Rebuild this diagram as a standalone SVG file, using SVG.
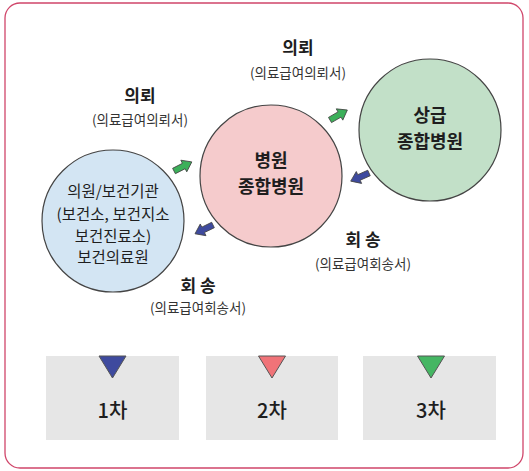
<svg xmlns="http://www.w3.org/2000/svg" width="529" height="471" viewBox="0 0 529 471">
<defs>
<style>
text{font-family:"Noto Sans CJK KR","Noto Sans",sans-serif;fill:#1e1e1e;text-anchor:middle}
.b{font-weight:700;font-size:17px}
.s{font-size:13.5px;fill:#333}
.c{font-weight:700;font-size:18px}
.n{font-size:15.5px}
.l{font-weight:500;font-size:20px}
.circ{stroke:#444;stroke-width:1.2}
.box{fill:#e6e6e6}
.tri{stroke:#555;stroke-width:1}
.ar{stroke:#444;stroke-width:0.8}
</style>
<path id="arr" d="M0,-3 L11,-3 L11,-6.5 L20,0 L11,6.5 L11,3 L0,3 Z"/>
</defs>
<rect x="5" y="3" width="518" height="465" rx="15" fill="#fff" stroke="#d0466a" stroke-width="1.3"/>
<g id="connectors">
<use href="#arr" class="ar" fill="#3cb05a" transform="translate(174,171) rotate(-27)"/>
<use href="#arr" class="ar" fill="#3cb05a" transform="translate(330,120) rotate(-30)"/>
<use href="#arr" class="ar" fill="#3e4a9e" transform="translate(369,173) rotate(156)"/>
<use href="#arr" class="ar" fill="#3e4a9e" transform="translate(213,225) rotate(154)"/>
</g>
<g id="label-refer-top">
<text class="b" x="298" y="54">의뢰</text>
<text class="s" x="298" y="78">(의료급여의뢰서)</text>
</g>
<g id="label-refer-left">
<text class="b" x="140" y="102">의뢰</text>
<text class="s" x="140" y="125">(의료급여의뢰서)</text>
</g>
<g id="label-return-right">
<text class="b" x="363" y="246">회 송</text>
<text class="s" x="363" y="269">(의료급여회송서)</text>
</g>
<g id="label-return-left">
<text class="b" x="198" y="292">회 송</text>
<text class="s" x="198" y="313">(의료급여회송서)</text>
</g>
<g id="node-clinic">
<circle class="circ" cx="113" cy="221" r="71" fill="#d3e5f3"/>
<text class="n" x="113" y="197">의원/보건기관</text>
<text class="n" x="113" y="220">(보건소, 보건지소</text>
<text class="n" x="113" y="242">보건진료소)</text>
<text class="n" x="113" y="263">보건의료원</text>
</g>
<g id="node-hospital">
<circle class="circ" cx="271" cy="176" r="71" fill="#f5cbcc"/>
<text class="c" x="271" y="167">병원</text>
<text class="c" x="271" y="193">종합병원</text>
</g>
<g id="node-tertiary">
<circle class="circ" cx="430" cy="130" r="71" fill="#c2e0c8"/>
<text class="c" x="430" y="122">상급</text>
<text class="c" x="430" y="148">종합병원</text>
</g>
<g id="node-1">
<rect class="box" x="46" y="356" width="133" height="84"/>
<path class="tri" d="M99,356 L126,356 L112.5,378 Z" fill="#3e4a9e"/>
<text class="l" x="112.5" y="418">1차</text>
</g>
<g id="node-2">
<rect class="box" x="206" y="356" width="132" height="84"/>
<path class="tri" d="M258.5,356 L285.5,356 L272,378 Z" fill="#f07378"/>
<text class="l" x="272" y="418">2차</text>
</g>
<g id="node-3">
<rect class="box" x="363" y="356" width="133" height="84"/>
<path class="tri" d="M417.5,356 L444.5,356 L431,378 Z" fill="#45b663"/>
<text class="l" x="431" y="418">3차</text>
</g>
</svg>
